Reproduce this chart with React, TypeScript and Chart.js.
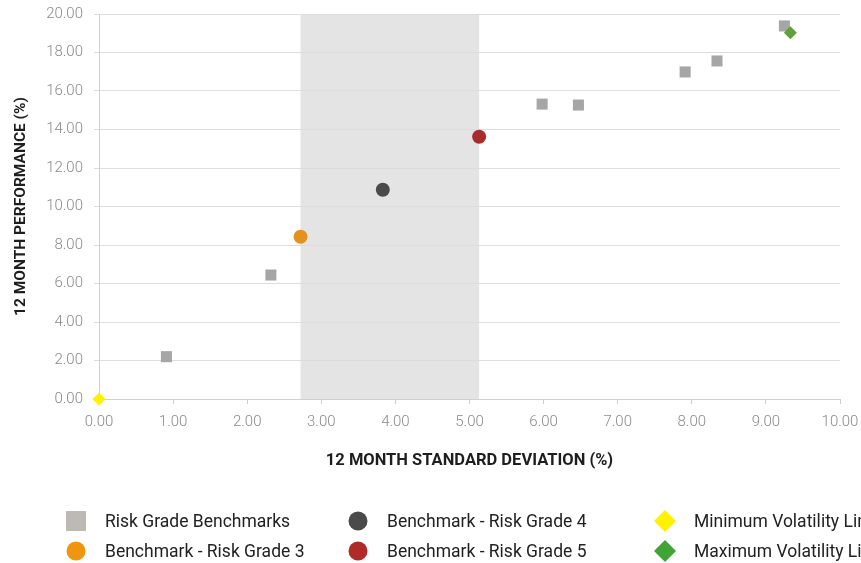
import React, { useEffect, useRef } from "react";
import { Chart, registerables } from "chart.js";

Chart.register(...registerables);

// Risk grade benchmark points: [standard deviation %, performance %]
const benchmarkSd = [0.91, 2.32, 5.98, 6.47, 7.91, 8.34, 9.25];
const benchmarkPerf = [2.2, 6.44, 15.32, 15.27, 16.99, 17.56, 19.38];

const grade3 = { sd: 2.72, perf: 8.43 };
const grade4 = { sd: 3.83, perf: 10.87 };
const grade5 = { sd: 5.13, perf: 13.62 };
const minVol = { sd: 0.0, perf: 0.0 };
const maxVol = { sd: 9.33, perf: 19.03 };

// Shaded risk band between grade 3 and grade 5 volatility
const bandStart = grade3.sd;
const bandEnd = grade5.sd;

const xTicksMin = 0;
const xTicksMax = 10;
const yTicksMin = 0;
const yTicksMax = 20;

const seriesLabels = [
  "Risk Grade Benchmarks",
  "Benchmark - Risk Grade 3",
  "Benchmark - Risk Grade 4",
  "Benchmark - Risk Grade 5",
  "Minimum Volatility Limit",
  "Maximum Volatility Limit",
];

const FONT = "Roboto, 'DejaVu Sans', sans-serif";

const bandPlugin = {
  id: "riskBand",
  beforeDraw(chart: any) {
    const { ctx, chartArea, scales } = chart;
    const x0 = scales.x.getPixelForValue(bandStart);
    const x1 = scales.x.getPixelForValue(bandEnd);
    ctx.save();
    ctx.fillStyle = "#e4e4e4";
    ctx.fillRect(x0, chartArea.top, x1 - x0, chartArea.bottom - chartArea.top);
    ctx.restore();
  },
};

// Three-column legend drawn below the axis title
const legendPlugin = {
  id: "gridLegend",
  afterDraw(chart: any) {
    const { ctx } = chart;
    const cols = [76, 358, 665];
    const rows = [521, 551];
    const slots = [
      [0, 0],
      [0, 1],
      [1, 0],
      [1, 1],
      [2, 0],
      [2, 1],
    ];
    ctx.save();
    chart.data.datasets.forEach((ds: any, i: number) => {
      const [c, r] = slots[i];
      const cx = cols[c];
      const cy = rows[r];
      ctx.fillStyle = ds.legendColor || ds.backgroundColor;
      ctx.beginPath();
      if (ds.pointStyle === "rect") {
        ctx.rect(cx - 10, cy - 10, 20, 20);
      } else if (ds.pointStyle === "rectRot") {
        ctx.moveTo(cx, cy - 11);
        ctx.lineTo(cx + 11, cy);
        ctx.lineTo(cx, cy + 11);
        ctx.lineTo(cx - 11, cy);
        ctx.closePath();
      } else {
        ctx.arc(cx, cy, 9.5, 0, Math.PI * 2);
      }
      ctx.fill();
      ctx.fillStyle = "#222222";
      ctx.font = `17.5px ${FONT}`;
      ctx.textAlign = "left";
      ctx.textBaseline = "middle";
      ctx.fillText(ds.label, cx + 29, cy + 2);
    });
    ctx.restore();
  },
};

export default function App() {
  const canvasRef = useRef<HTMLCanvasElement | null>(null);

  useEffect(() => {
    if (!canvasRef.current) return;
    const pt = (p: { sd: number; perf: number }) => [{ x: p.sd, y: p.perf }];
    const chart = new Chart(canvasRef.current, {
      type: "scatter",
      data: {
        datasets: [
          {
            label: seriesLabels[0],
            data: benchmarkSd.map((sd, i) => ({ x: sd, y: benchmarkPerf[i] })),
            pointStyle: "rect",
            pointRadius: 7.8,
            backgroundColor: "#a6a6a6",
            borderWidth: 0,
            legendColor: "#bdb9b5",
            order: 3,
            clip: false,
          } as any,
          {
            label: seriesLabels[1],
            data: pt(grade3),
            pointStyle: "circle",
            pointRadius: 7,
            backgroundColor: "#e3921c",
            borderWidth: 0,
            legendColor: "#f0950f",
            order: 2,
            clip: false,
          },
          {
            label: seriesLabels[2],
            data: pt(grade4),
            pointStyle: "circle",
            pointRadius: 7,
            backgroundColor: "#4a4a4a",
            borderWidth: 0,
            order: 2,
            clip: false,
          },
          {
            label: seriesLabels[3],
            data: pt(grade5),
            pointStyle: "circle",
            pointRadius: 7,
            backgroundColor: "#a82c2c",
            borderWidth: 0,
            legendColor: "#b02a2a",
            order: 2,
            clip: false,
          },
          {
            label: seriesLabels[4],
            data: pt(minVol),
            pointStyle: "rectRot",
            pointRadius: 6.5,
            backgroundColor: "#fff200",
            borderWidth: 0,
            order: 1,
            clip: false,
          },
          {
            label: seriesLabels[5],
            data: pt(maxVol),
            pointStyle: "rectRot",
            pointRadius: 6.5,
            backgroundColor: "#5fa03c",
            borderWidth: 0,
            legendColor: "#3ea534",
            order: 1,
            clip: false,
          },
        ],
      },
      options: {
        animation: false,
        responsive: false,
        maintainAspectRatio: false,
        layout: { padding: { top: 14, right: 21, left: 0, bottom: 0 } },
        plugins: {
          legend: { display: false },
          tooltip: { enabled: false },
        },
        scales: {
          x: {
            type: "linear",
            min: xTicksMin,
            max: xTicksMax,
            afterFit: (s: any) => {
              s.height = 164;
              s.paddingLeft = 0;
              s.paddingRight = 0;
            },
            ticks: {
              stepSize: 1,
              padding: 9,
              color: "#8a8a8a",
              font: { family: FONT, size: 15, weight: "300" as any },
              callback: (v: any) => Number(v).toFixed(2),
            },
            grid: {
              drawOnChartArea: false,
              drawTicks: true,
              tickLength: 5,
              color: "#d0d0d0",
            },
            border: { display: true, color: "#d0d0d0" },
            title: {
              display: true,
              text: "12 MONTH STANDARD DEVIATION (%)",
              color: "#1e1e1e",
              font: { family: FONT, size: 16.5, weight: "bold" },
              padding: { top: 0, bottom: 92 },
            },
          },
          y: {
            type: "linear",
            min: yTicksMin,
            max: yTicksMax,
            afterFit: (s: any) => {
              s.width = 99;
              s.paddingTop = 0;
              s.paddingBottom = 0;
            },
            ticks: {
              stepSize: 2,
              padding: 11,
              color: "#8a8a8a",
              font: { family: FONT, size: 15, weight: "300" as any },
              callback: (v: any) => Number(v).toFixed(2),
            },
            grid: {
              drawOnChartArea: true,
              drawTicks: true,
              tickLength: 5,
              color: "#dddddd",
            },
            border: { display: true, color: "#d0d0d0" },
            title: {
              display: true,
              text: "12 MONTH PERFORMANCE (%)",
              color: "#1e1e1e",
              font: { family: FONT, size: 15.5, weight: "bold" },
              padding: { top: 12, bottom: 0 },
            },
          },
        },
      },
      plugins: [bandPlugin, legendPlugin],
    });
    return () => chart.destroy();
  }, []);

  return (
    <div style={{ position: "fixed", left: 0, top: 0, width: 861, height: 563, background: "#ffffff" }}>
      <canvas ref={canvasRef} width={861} height={563} style={{ display: "block" }} />
    </div>
  );
}
